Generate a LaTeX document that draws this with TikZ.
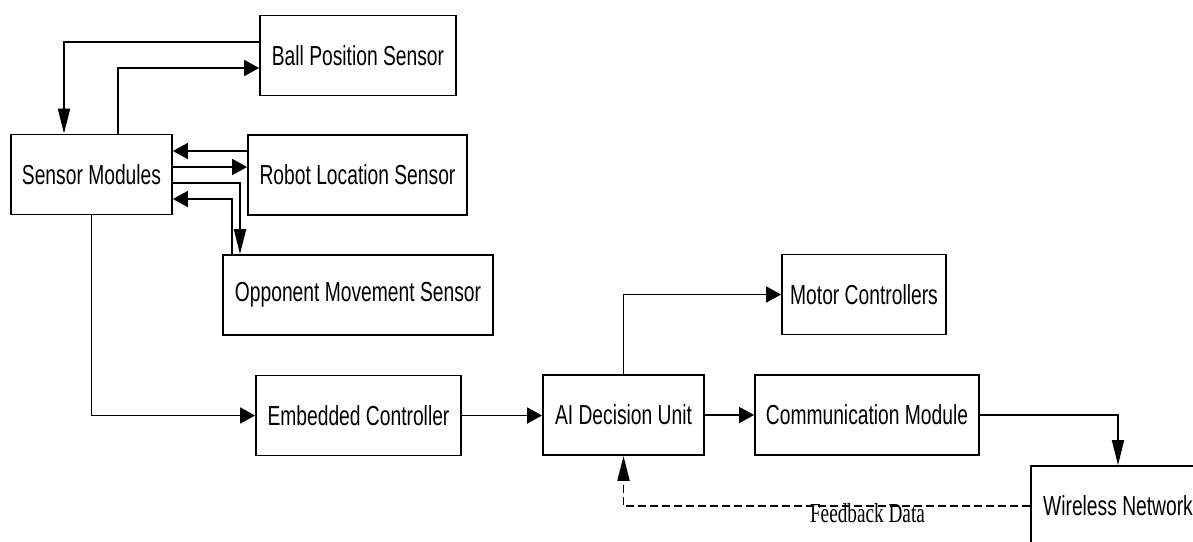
\documentclass[tikz,border=0pt]{standalone}
\usepackage{fontspec}
\setmainfont[FakeStretch=0.70]{Liberation Sans}
\newfontfamily\labelfont[FakeStretch=0.70]{Liberation Serif}
\usepackage{tikz}
\usetikzlibrary{arrows.meta,positioning,calc}

\begin{document}
\begin{tikzpicture}[
    x=1pt, y=-1pt,
    block/.style={rectangle, draw, line width=1.8pt, inner sep=0pt, text centered, minimum height=80pt, font=\fontsize{27.5}{31}\selectfont},
    harrow/.style={-{Triangle[length=15pt,width=16pt]}, line width=1.8pt},
    varrow/.style={-{Triangle[length=25pt,width=12pt]}, line width=1.8pt},
    feedback/.style={varrow, dashed, dash pattern=on 8pt off 4pt}
]
\useasboundingbox (0,0) rectangle (1193,541);
\clip (0,0) rectangle (1193,541);

% Draw blocks
\node[block, minimum width=196pt] (ball) at (358,55.5) {Ball Position Sensor};
\node[block, minimum width=161pt] (sensor) at (91.5,174.5) {Sensor Modules};
\node[block, minimum width=219pt] (robot) at (357.5,175) {Robot Location Sensor};
\node[block, minimum width=270pt] (opp) at (358,295) {Opponent Movement Sensor};
\node[block, minimum width=205pt] (embed) at (358.5,415.5) {Embedded Controller};
\node[block, minimum width=161pt] (ai) at (623.5,415) {AI Decision Unit};
\node[block, minimum width=164pt] (motor) at (864,294.5) {Motor Controllers};
\node[block, minimum width=224pt] (comm) at (867,415) {Communication Module};
\node[block, minimum width=174pt] (wireless) at (1118,506) {Wireless Network};

% Draw arrows
\draw[varrow] ([yshift=13.5pt]ball.west) -| ([xshift=-27.5pt]sensor.north);
\draw[harrow] ([xshift=26.5pt]sensor.north) |- ([yshift=-12.5pt]ball.west);
\draw[harrow] ([yshift=24pt]robot.west) -- ([yshift=24pt]robot.west -| sensor.east);
\draw[harrow] ([yshift=7.5pt]sensor.east) -- ([yshift=7.5pt]sensor.east -| robot.west);
\draw[varrow] ([yshift=-8.5pt]sensor.east) -| ([xshift=-118pt]opp.north);
\draw[harrow] ([xshift=-126pt]opp.north) |- ([yshift=-24.5pt]sensor.east);
\draw[harrow] (sensor.south) |- (embed.west);
\draw[harrow] (embed.east) -- (embed.east -| ai.west);
\draw[harrow] (ai.east) -- (comm.west);
\draw[harrow] (ai.north) |- (motor.west);
\draw[varrow] (comm.east) -| (wireless.north);
\draw[feedback] (wireless.west) -| node[pos=0.2, yshift=-7pt, font=\labelfont\fontsize{27.5}{31}\selectfont] (fbdata) {Feedback Data} (ai.south);

\end{tikzpicture}
\end{document}
